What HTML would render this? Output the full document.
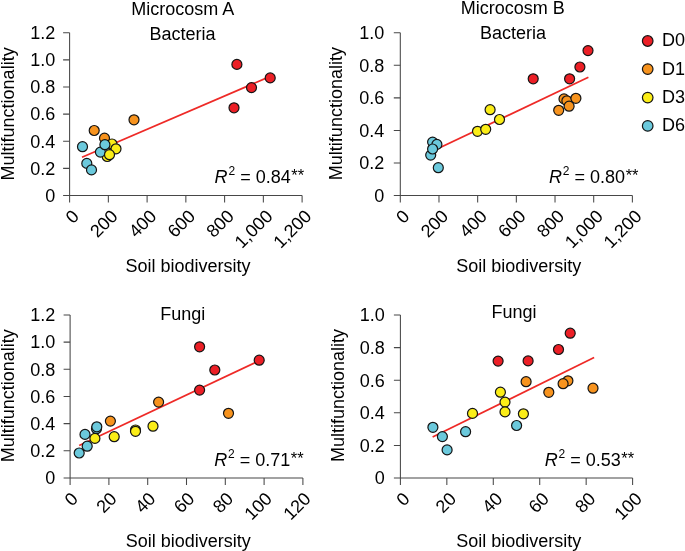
<!DOCTYPE html><html><head><meta charset="utf-8"><style>html,body{margin:0;padding:0;background:#fff;}svg{display:block;will-change:transform;}text{font-family:"Liberation Sans",sans-serif;font-size:18px;fill:#000;}</style></head><body>
<svg width="685" height="551" viewBox="0 0 685 551">
<text x="182.70" y="14.70" text-anchor="middle" >Microcosm A</text>
<text x="182.60" y="40.20" text-anchor="middle" >Bacteria</text>
<text x="512.70" y="13.90" text-anchor="middle" >Microcosm B</text>
<text x="513.00" y="39.00" text-anchor="middle" >Bacteria</text>
<text x="182.70" y="319.80" text-anchor="middle" >Fungi</text>
<text x="514.10" y="318.20" text-anchor="middle" >Fungi</text>
<text x="0" y="0" text-anchor="middle" transform="translate(13.80 113.90) rotate(-90)">Multifunctionality</text>
<text x="0" y="0" text-anchor="middle" transform="translate(341.80 113.60) rotate(-90)">Multifunctionality</text>
<text x="0" y="0" text-anchor="middle" transform="translate(13.50 395.80) rotate(-90)">Multifunctionality</text>
<text x="0" y="0" text-anchor="middle" transform="translate(343.60 395.50) rotate(-90)">Multifunctionality</text>
<text x="188.00" y="272.00" text-anchor="middle" >Soil biodiversity</text>
<text x="518.70" y="272.00" text-anchor="middle" >Soil biodiversity</text>
<text x="188.20" y="547.00" text-anchor="middle" >Soil biodiversity</text>
<text x="518.70" y="547.00" text-anchor="middle" >Soil biodiversity</text>
<path d="M69.60 32.70V202.50M63.10 195.50H302.10" stroke="#474747" stroke-width="1.05" fill="none"/>
<path d="M63.10 168.37H69.60M63.10 141.24H69.60M63.10 114.11H69.60M63.10 86.98H69.60M63.10 59.85H69.60M63.10 32.72H69.60M108.35 195.50V202.50M147.10 195.50V202.50M185.85 195.50V202.50M224.60 195.50V202.50M263.35 195.50V202.50M302.10 195.50V202.50" stroke="#474747" stroke-width="1.05" fill="none"/>
<text x="55.20" y="201.80" text-anchor="end" >0</text>
<text x="55.20" y="174.67" text-anchor="end" >0.2</text>
<text x="55.20" y="147.54" text-anchor="end" >0.4</text>
<text x="55.20" y="120.41" text-anchor="end" >0.6</text>
<text x="55.20" y="93.28" text-anchor="end" >0.8</text>
<text x="55.20" y="66.15" text-anchor="end" >1.0</text>
<text x="55.20" y="39.02" text-anchor="end" >1.2</text>
<text x="0" y="0" text-anchor="end" transform="translate(80.00 217.30) rotate(-45)">0</text>
<text x="0" y="0" text-anchor="end" transform="translate(118.75 217.30) rotate(-45)">200</text>
<text x="0" y="0" text-anchor="end" transform="translate(157.50 217.30) rotate(-45)">400</text>
<text x="0" y="0" text-anchor="end" transform="translate(196.25 217.30) rotate(-45)">600</text>
<text x="0" y="0" text-anchor="end" transform="translate(235.00 217.30) rotate(-45)">800</text>
<text x="0" y="0" text-anchor="end" transform="translate(273.75 217.30) rotate(-45)">1,000</text>
<text x="0" y="0" text-anchor="end" transform="translate(312.50 217.30) rotate(-45)">1,200</text>
<path d="M400.30 32.80V202.50M393.80 195.50H632.38" stroke="#474747" stroke-width="1.05" fill="none"/>
<path d="M393.80 162.96H400.30M393.80 130.42H400.30M393.80 97.88H400.30M393.80 65.34H400.30M393.80 32.80H400.30M438.98 195.50V202.50M477.66 195.50V202.50M516.34 195.50V202.50M555.02 195.50V202.50M593.70 195.50V202.50M632.38 195.50V202.50" stroke="#474747" stroke-width="1.05" fill="none"/>
<text x="384.30" y="201.80" text-anchor="end" >0</text>
<text x="384.30" y="169.26" text-anchor="end" >0.2</text>
<text x="384.30" y="136.72" text-anchor="end" >0.4</text>
<text x="384.30" y="104.18" text-anchor="end" >0.6</text>
<text x="384.30" y="71.64" text-anchor="end" >0.8</text>
<text x="384.30" y="39.10" text-anchor="end" >1.0</text>
<text x="0" y="0" text-anchor="end" transform="translate(410.70 217.30) rotate(-45)">0</text>
<text x="0" y="0" text-anchor="end" transform="translate(449.38 217.30) rotate(-45)">200</text>
<text x="0" y="0" text-anchor="end" transform="translate(488.06 217.30) rotate(-45)">400</text>
<text x="0" y="0" text-anchor="end" transform="translate(526.74 217.30) rotate(-45)">600</text>
<text x="0" y="0" text-anchor="end" transform="translate(565.42 217.30) rotate(-45)">800</text>
<text x="0" y="0" text-anchor="end" transform="translate(604.10 217.30) rotate(-45)">1,000</text>
<text x="0" y="0" text-anchor="end" transform="translate(642.78 217.30) rotate(-45)">1,200</text>
<path d="M70.10 315.00V485.00M63.60 478.00H302.90" stroke="#474747" stroke-width="1.05" fill="none"/>
<path d="M63.60 450.82H70.10M63.60 423.64H70.10M63.60 396.46H70.10M63.60 369.28H70.10M63.60 342.10H70.10M63.60 314.92H70.10M108.90 478.00V485.00M147.70 478.00V485.00M186.50 478.00V485.00M225.30 478.00V485.00M264.10 478.00V485.00M302.90 478.00V485.00" stroke="#474747" stroke-width="1.05" fill="none"/>
<text x="55.20" y="484.30" text-anchor="end" >0</text>
<text x="55.20" y="457.12" text-anchor="end" >0.2</text>
<text x="55.20" y="429.94" text-anchor="end" >0.4</text>
<text x="55.20" y="402.76" text-anchor="end" >0.6</text>
<text x="55.20" y="375.58" text-anchor="end" >0.8</text>
<text x="55.20" y="348.40" text-anchor="end" >1.0</text>
<text x="55.20" y="321.22" text-anchor="end" >1.2</text>
<text x="0" y="0" text-anchor="end" transform="translate(79.10 499.80) rotate(-45)">0</text>
<text x="0" y="0" text-anchor="end" transform="translate(117.90 499.80) rotate(-45)">20</text>
<text x="0" y="0" text-anchor="end" transform="translate(156.70 499.80) rotate(-45)">40</text>
<text x="0" y="0" text-anchor="end" transform="translate(195.50 499.80) rotate(-45)">60</text>
<text x="0" y="0" text-anchor="end" transform="translate(234.30 499.80) rotate(-45)">80</text>
<text x="0" y="0" text-anchor="end" transform="translate(273.10 499.80) rotate(-45)">100</text>
<text x="0" y="0" text-anchor="end" transform="translate(311.90 499.80) rotate(-45)">120</text>
<path d="M400.40 315.00V485.00M393.90 478.00H632.60" stroke="#474747" stroke-width="1.05" fill="none"/>
<path d="M393.90 445.40H400.40M393.90 412.80H400.40M393.90 380.20H400.40M393.90 347.60H400.40M393.90 315.00H400.40M446.84 478.00V485.00M493.28 478.00V485.00M539.72 478.00V485.00M586.16 478.00V485.00M632.60 478.00V485.00" stroke="#474747" stroke-width="1.05" fill="none"/>
<text x="384.80" y="484.30" text-anchor="end" >0</text>
<text x="384.80" y="451.70" text-anchor="end" >0.2</text>
<text x="384.80" y="419.10" text-anchor="end" >0.4</text>
<text x="384.80" y="386.50" text-anchor="end" >0.6</text>
<text x="384.80" y="353.90" text-anchor="end" >0.8</text>
<text x="384.80" y="321.30" text-anchor="end" >1.0</text>
<text x="0" y="0" text-anchor="end" transform="translate(410.80 499.80) rotate(-45)">0</text>
<text x="0" y="0" text-anchor="end" transform="translate(457.24 499.80) rotate(-45)">20</text>
<text x="0" y="0" text-anchor="end" transform="translate(503.68 499.80) rotate(-45)">40</text>
<text x="0" y="0" text-anchor="end" transform="translate(550.12 499.80) rotate(-45)">60</text>
<text x="0" y="0" text-anchor="end" transform="translate(596.56 499.80) rotate(-45)">80</text>
<text x="0" y="0" text-anchor="end" transform="translate(643.00 499.80) rotate(-45)">100</text>
<line x1="82.0" y1="157.3" x2="270.2" y2="76.4" stroke="#ee2a27" stroke-width="1.7"/>
<line x1="430.7" y1="152.1" x2="588.4" y2="77.3" stroke="#ee2a27" stroke-width="1.7"/>
<line x1="79.2" y1="445.4" x2="259.2" y2="360.7" stroke="#ee2a27" stroke-width="1.7"/>
<line x1="432.6" y1="437.1" x2="594.1" y2="357.6" stroke="#ee2a27" stroke-width="1.7"/>
<circle cx="236.90" cy="64.40" r="5.0" fill="#ec1f26" stroke="#141414" stroke-width="1.2"/>
<circle cx="270.20" cy="77.90" r="5.0" fill="#ec1f26" stroke="#141414" stroke-width="1.2"/>
<circle cx="251.50" cy="87.60" r="5.0" fill="#ec1f26" stroke="#141414" stroke-width="1.2"/>
<circle cx="234.00" cy="107.80" r="5.0" fill="#ec1f26" stroke="#141414" stroke-width="1.2"/>
<circle cx="134.00" cy="119.80" r="5.0" fill="#f7931e" stroke="#141414" stroke-width="1.2"/>
<circle cx="94.20" cy="130.50" r="5.0" fill="#f7931e" stroke="#141414" stroke-width="1.2"/>
<circle cx="104.50" cy="138.20" r="5.0" fill="#f7931e" stroke="#141414" stroke-width="1.2"/>
<circle cx="112.00" cy="144.00" r="5.0" fill="#fbed17" stroke="#141414" stroke-width="1.2"/>
<circle cx="107.20" cy="156.50" r="5.0" fill="#fbed17" stroke="#141414" stroke-width="1.2"/>
<circle cx="82.50" cy="146.70" r="5.0" fill="#6bc9dc" stroke="#141414" stroke-width="1.2"/>
<circle cx="100.40" cy="152.10" r="5.0" fill="#6bc9dc" stroke="#141414" stroke-width="1.2"/>
<circle cx="104.90" cy="144.70" r="5.0" fill="#6bc9dc" stroke="#141414" stroke-width="1.2"/>
<circle cx="86.80" cy="163.40" r="5.0" fill="#6bc9dc" stroke="#141414" stroke-width="1.2"/>
<circle cx="91.50" cy="169.90" r="5.0" fill="#6bc9dc" stroke="#141414" stroke-width="1.2"/>
<circle cx="116.00" cy="148.80" r="5.0" fill="#fbed17" stroke="#141414" stroke-width="1.2"/>
<circle cx="109.50" cy="154.70" r="5.0" fill="#fbed17" stroke="#141414" stroke-width="1.2"/>
<circle cx="588.00" cy="50.60" r="5.0" fill="#ec1f26" stroke="#141414" stroke-width="1.2"/>
<circle cx="579.90" cy="67.00" r="5.0" fill="#ec1f26" stroke="#141414" stroke-width="1.2"/>
<circle cx="569.60" cy="78.80" r="5.0" fill="#ec1f26" stroke="#141414" stroke-width="1.2"/>
<circle cx="533.20" cy="78.80" r="5.0" fill="#ec1f26" stroke="#141414" stroke-width="1.2"/>
<circle cx="564.00" cy="98.90" r="5.0" fill="#f7931e" stroke="#141414" stroke-width="1.2"/>
<circle cx="566.90" cy="100.80" r="5.0" fill="#f7931e" stroke="#141414" stroke-width="1.2"/>
<circle cx="575.90" cy="98.30" r="5.0" fill="#f7931e" stroke="#141414" stroke-width="1.2"/>
<circle cx="569.10" cy="106.20" r="5.0" fill="#f7931e" stroke="#141414" stroke-width="1.2"/>
<circle cx="558.70" cy="110.30" r="5.0" fill="#f7931e" stroke="#141414" stroke-width="1.2"/>
<circle cx="490.10" cy="109.70" r="5.0" fill="#fbed17" stroke="#141414" stroke-width="1.2"/>
<circle cx="499.50" cy="119.50" r="5.0" fill="#fbed17" stroke="#141414" stroke-width="1.2"/>
<circle cx="477.50" cy="131.30" r="5.0" fill="#fbed17" stroke="#141414" stroke-width="1.2"/>
<circle cx="485.70" cy="129.30" r="5.0" fill="#fbed17" stroke="#141414" stroke-width="1.2"/>
<circle cx="432.60" cy="142.10" r="5.0" fill="#6bc9dc" stroke="#141414" stroke-width="1.2"/>
<circle cx="436.90" cy="144.40" r="5.0" fill="#6bc9dc" stroke="#141414" stroke-width="1.2"/>
<circle cx="430.70" cy="155.10" r="5.0" fill="#6bc9dc" stroke="#141414" stroke-width="1.2"/>
<circle cx="432.60" cy="149.00" r="5.0" fill="#6bc9dc" stroke="#141414" stroke-width="1.2"/>
<circle cx="438.30" cy="167.70" r="5.0" fill="#6bc9dc" stroke="#141414" stroke-width="1.2"/>
<circle cx="199.60" cy="346.80" r="5.0" fill="#ec1f26" stroke="#141414" stroke-width="1.2"/>
<circle cx="259.20" cy="360.20" r="5.0" fill="#ec1f26" stroke="#141414" stroke-width="1.2"/>
<circle cx="214.80" cy="370.00" r="5.0" fill="#ec1f26" stroke="#141414" stroke-width="1.2"/>
<circle cx="199.60" cy="390.10" r="5.0" fill="#ec1f26" stroke="#141414" stroke-width="1.2"/>
<circle cx="158.60" cy="402.10" r="5.0" fill="#f7931e" stroke="#141414" stroke-width="1.2"/>
<circle cx="110.40" cy="421.10" r="5.0" fill="#f7931e" stroke="#141414" stroke-width="1.2"/>
<circle cx="228.50" cy="413.30" r="5.0" fill="#f7931e" stroke="#141414" stroke-width="1.2"/>
<circle cx="96.50" cy="428.70" r="5.0" fill="#6bc9dc" stroke="#141414" stroke-width="1.2"/>
<circle cx="96.80" cy="426.80" r="5.0" fill="#6bc9dc" stroke="#141414" stroke-width="1.2"/>
<circle cx="153.00" cy="426.20" r="5.0" fill="#fbed17" stroke="#141414" stroke-width="1.2"/>
<circle cx="135.50" cy="430.00" r="5.0" fill="#fbed17" stroke="#141414" stroke-width="1.2"/>
<circle cx="135.50" cy="431.30" r="5.0" fill="#fbed17" stroke="#141414" stroke-width="1.2"/>
<circle cx="114.20" cy="436.70" r="5.0" fill="#fbed17" stroke="#141414" stroke-width="1.2"/>
<circle cx="94.90" cy="438.40" r="5.0" fill="#fbed17" stroke="#141414" stroke-width="1.2"/>
<circle cx="85.00" cy="434.40" r="5.0" fill="#6bc9dc" stroke="#141414" stroke-width="1.2"/>
<circle cx="87.20" cy="446.20" r="5.0" fill="#6bc9dc" stroke="#141414" stroke-width="1.2"/>
<circle cx="79.20" cy="453.00" r="5.0" fill="#6bc9dc" stroke="#141414" stroke-width="1.2"/>
<circle cx="570.20" cy="333.20" r="5.0" fill="#ec1f26" stroke="#141414" stroke-width="1.2"/>
<circle cx="558.50" cy="349.50" r="5.0" fill="#ec1f26" stroke="#141414" stroke-width="1.2"/>
<circle cx="528.10" cy="360.90" r="5.0" fill="#ec1f26" stroke="#141414" stroke-width="1.2"/>
<circle cx="498.10" cy="361.10" r="5.0" fill="#ec1f26" stroke="#141414" stroke-width="1.2"/>
<circle cx="526.10" cy="381.70" r="5.0" fill="#f7931e" stroke="#141414" stroke-width="1.2"/>
<circle cx="567.90" cy="380.80" r="5.0" fill="#f7931e" stroke="#141414" stroke-width="1.2"/>
<circle cx="563.10" cy="383.70" r="5.0" fill="#f7931e" stroke="#141414" stroke-width="1.2"/>
<circle cx="548.80" cy="392.30" r="5.0" fill="#f7931e" stroke="#141414" stroke-width="1.2"/>
<circle cx="593.00" cy="388.20" r="5.0" fill="#f7931e" stroke="#141414" stroke-width="1.2"/>
<circle cx="500.40" cy="392.20" r="5.0" fill="#fbed17" stroke="#141414" stroke-width="1.2"/>
<circle cx="505.00" cy="402.10" r="5.0" fill="#fbed17" stroke="#141414" stroke-width="1.2"/>
<circle cx="505.00" cy="411.90" r="5.0" fill="#fbed17" stroke="#141414" stroke-width="1.2"/>
<circle cx="523.40" cy="413.80" r="5.0" fill="#fbed17" stroke="#141414" stroke-width="1.2"/>
<circle cx="472.50" cy="413.40" r="5.0" fill="#fbed17" stroke="#141414" stroke-width="1.2"/>
<circle cx="516.60" cy="425.50" r="5.0" fill="#6bc9dc" stroke="#141414" stroke-width="1.2"/>
<circle cx="432.90" cy="427.30" r="5.0" fill="#6bc9dc" stroke="#141414" stroke-width="1.2"/>
<circle cx="442.40" cy="436.60" r="5.0" fill="#6bc9dc" stroke="#141414" stroke-width="1.2"/>
<circle cx="465.60" cy="431.70" r="5.0" fill="#6bc9dc" stroke="#141414" stroke-width="1.2"/>
<circle cx="447.10" cy="449.90" r="5.0" fill="#6bc9dc" stroke="#141414" stroke-width="1.2"/>
<text x="214.54" y="182.50"><tspan font-style="italic">R</tspan><tspan font-size="12" dx="0.9" dy="-8">2</tspan><tspan dy="8"> = 0.84</tspan><tspan font-size="16.5" dx="0.6" dy="-1.5">**</tspan></text>
<text x="548.94" y="182.60"><tspan font-style="italic">R</tspan><tspan font-size="12" dx="0.9" dy="-8">2</tspan><tspan dy="8"> = 0.80</tspan><tspan font-size="16.5" dx="0.6" dy="-1.5">**</tspan></text>
<text x="214.14" y="465.90"><tspan font-style="italic">R</tspan><tspan font-size="12" dx="0.9" dy="-8">2</tspan><tspan dy="8"> = 0.71</tspan><tspan font-size="16.5" dx="0.6" dy="-1.5">**</tspan></text>
<text x="544.64" y="465.90"><tspan font-style="italic">R</tspan><tspan font-size="12" dx="0.9" dy="-8">2</tspan><tspan dy="8"> = 0.53</tspan><tspan font-size="16.5" dx="0.6" dy="-1.5">**</tspan></text>
<circle cx="647.7" cy="41.0" r="5.3" fill="#ec1f26" stroke="#141414" stroke-width="1.2"/>
<text x="662.10" y="46.30" text-anchor="start" >D0</text>
<circle cx="647.7" cy="69.1" r="5.3" fill="#f7931e" stroke="#141414" stroke-width="1.2"/>
<text x="662.10" y="74.60" text-anchor="start" >D1</text>
<circle cx="647.7" cy="97.6" r="5.3" fill="#fbed17" stroke="#141414" stroke-width="1.2"/>
<text x="662.10" y="102.90" text-anchor="start" >D3</text>
<circle cx="647.7" cy="125.9" r="5.3" fill="#6bc9dc" stroke="#141414" stroke-width="1.2"/>
<text x="662.10" y="131.00" text-anchor="start" >D6</text>
</svg></body></html>
